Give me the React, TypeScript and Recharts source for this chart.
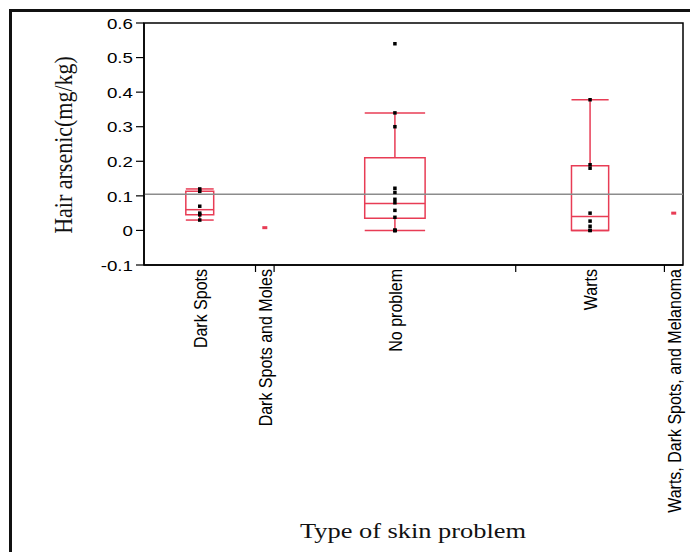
import React from 'react';
import { ComposedChart, XAxis, YAxis, Scatter, ReferenceLine, ReferenceArea, Label } from 'recharts';

const categories = ['Dark Spots', 'Dark Spots and Moles', 'No problem', 'Warts', 'Warts, Dark Spots, and Melanoma'];
const groupSizes = [6, 1, 13, 8, 1];

const darkSpots = [0.12, 0.113, 0.07, 0.05, 0.045, 0.03];
const darkSpotsMoles = [0.008];
const noProblem = [0.54, 0.34, 0.3, 0.122, 0.11, 0.09, 0.08, 0.058, 0.038, 0.0, 0.0, 0.0, 0.0];
const warts = [0.378, 0.19, 0.18, 0.05, 0.027, 0.012, 0.0, 0.0];
const wartsDarkMelanoma = [0.05];
const groupValues = [darkSpots, darkSpotsMoles, noProblem, warts, wartsDarkMelanoma];

const whiskerLow: (number | null)[] = [0.03, null, 0.0, 0.0, null];
const quartile1: (number | null)[] = [0.045, null, 0.035, 0.0, null];
const medians: (number | null)[] = [0.06, null, 0.078, 0.04, null];
const quartile3: (number | null)[] = [0.113, null, 0.21, 0.187, null];
const whiskerHigh: (number | null)[] = [0.12, null, 0.34, 0.378, null];

const grandMean = 0.105;
const yTicks = [-0.1, 0, 0.1, 0.2, 0.3, 0.4, 0.5, 0.6];

const total = groupSizes.reduce((a, b) => a + b, 0);
const starts: number[] = [];
groupSizes.reduce((acc, n) => { starts.push(acc); return acc + n; }, 0);
const centers = groupSizes.map((n, i) => starts[i] + n / 2);
const boundaries = starts.slice(1);
const xTicks = [...boundaries, ...centers].sort((a, b) => a - b);

const RED = '#e83c55';
const SANS = '"Liberation Sans", Arial, sans-serif';
const SERIF = '"Liberation Serif", "Times New Roman", serif';

const XTick = (props: any) => {
  const { x, y, payload } = props;
  const v = payload.value;
  const idx = centers.indexOf(v);
  if (idx < 0) {
    return <line x1={x} x2={x} y1={y} y2={y + 7} stroke="#000" strokeWidth={1.2} />;
  }
  return (
    <text
      transform={`translate(${x + 7},${y + 4}) scale(1.15,1) rotate(-90)`}
      textAnchor="end"
      fontFamily={SANS}
      fontSize={16}
      fill="#000"
    >
      {categories[idx]}
    </text>
  );
};

const YTick = (props: any) => {
  const { x, y, payload } = props;
  const v = payload.value;
  const s = Math.abs(v) < 1e-9 ? '0' : v.toFixed(1);
  return (
    <g transform={`translate(${x - 1},${y})`}>
      <text transform="scale(1.25,1)" textAnchor="end" dy="0.38em" fontFamily={SANS} fontSize={15} fill="#000">
        {s}
      </text>
    </g>
  );
};

const Dot = (props: any) => {
  const { cx, cy } = props;
  return <rect x={cx - 1.75} y={cy - 1.75} width={3.5} height={3.5} fill="#000" />;
};
const RedDot = (props: any) => {
  const { cx, cy } = props;
  return <rect x={cx - 2.5} y={cy - 1.5} width={5} height={3} fill={RED} />;
};

export default function App() {
  return (
    <div style={{ position: 'absolute', left: 0, top: 0, width: 690, height: 552, background: '#fff' }}>
      <div
        style={{
          position: 'absolute',
          left: 9,
          top: 9,
          width: 678,
          height: 540,
          borderTop: '3px solid #111',
          borderLeft: '3px solid #111',
        }}
      />
      <div style={{ position: 'absolute', left: 0, top: 0 }}>
        <ComposedChart width={690} height={552} margin={{ top: 23, right: 7, bottom: 7, left: 0 }}>
          <XAxis
            type="number"
            dataKey="x"
            domain={[0, total]}
            ticks={xTicks}
            interval={0}
            height={280}
            tickSize={0}
            tickMargin={0}
            tickLine={false}
            tick={<XTick />}
            axisLine={{ stroke: '#000', strokeWidth: 1.5 }}
          >
            <Label
              content={() => (
                <g transform="translate(413,538) scale(1.2,1)">
                  <text textAnchor="middle" fontFamily={SERIF} fontSize={22} fill="#111">
                    Type of skin problem
                  </text>
                </g>
              )}
            />
          </XAxis>
          <YAxis
            type="number"
            dataKey="y"
            domain={[-0.1, 0.6]}
            ticks={yTicks}
            interval={0}
            width={144}
            tickSize={8}
            tick={<YTick />}
            tickLine={{ stroke: '#000', strokeWidth: 1.2 }}
            axisLine={{ stroke: '#000', strokeWidth: 1.5 }}
          >
            <Label
              content={() => (
                <g transform="translate(72,145) scale(1.1,1) rotate(-90)">
                  <text textAnchor="middle" fontFamily={SERIF} fontSize={22} fill="#111">
                    Hair arsenic(mg/kg)
                  </text>
                </g>
              )}
            />
          </YAxis>
          <ReferenceArea x1={0} x2={total} y1={-0.1} y2={0.6} fill="none" fillOpacity={0} stroke="#000" strokeWidth={1.5} />
          <ReferenceLine y={grandMean} stroke="#8c8c8c" strokeWidth={1.5} />
          {groupSizes.map((n, i) => {
            if (quartile1[i] === null) return null;
            const half = n * 0.125;
            const c = centers[i];
            return (
              <ReferenceArea
                key={`box-${i}`}
                x1={c - half}
                x2={c + half}
                y1={quartile1[i] as number}
                y2={quartile3[i] as number}
                fill="none"
                fillOpacity={0}
                stroke={RED}
                strokeWidth={1.5}
              />
            );
          })}
          {groupSizes.map((n, i) => {
            if (medians[i] === null) return null;
            const half = n * 0.125;
            const c = centers[i];
            return (
              <ReferenceLine
                key={`med-${i}`}
                segment={[{ x: c - half, y: medians[i] as number }, { x: c + half, y: medians[i] as number }]}
                stroke={RED}
                strokeWidth={1.5}
              />
            );
          })}
          {groupSizes.map((n, i) => {
            if (whiskerHigh[i] === null) return null;
            const c = centers[i];
            return (
              <ReferenceLine
                key={`wh-${i}`}
                segment={[{ x: c, y: quartile3[i] as number }, { x: c, y: whiskerHigh[i] as number }]}
                stroke={RED}
                strokeWidth={1.5}
              />
            );
          })}
          {groupSizes.map((n, i) => {
            if (whiskerLow[i] === null) return null;
            const c = centers[i];
            return (
              <ReferenceLine
                key={`wl-${i}`}
                segment={[{ x: c, y: quartile1[i] as number }, { x: c, y: whiskerLow[i] as number }]}
                stroke={RED}
                strokeWidth={1.5}
              />
            );
          })}
          {groupSizes.map((n, i) => {
            if (whiskerHigh[i] === null) return null;
            const half = n * 0.125;
            const c = centers[i];
            return (
              <ReferenceLine
                key={`capH-${i}`}
                segment={[{ x: c - half, y: whiskerHigh[i] as number }, { x: c + half, y: whiskerHigh[i] as number }]}
                stroke={RED}
                strokeWidth={1.5}
              />
            );
          })}
          {groupSizes.map((n, i) => {
            if (whiskerLow[i] === null) return null;
            const half = n * 0.125;
            const c = centers[i];
            return (
              <ReferenceLine
                key={`capL-${i}`}
                segment={[{ x: c - half, y: whiskerLow[i] as number }, { x: c + half, y: whiskerLow[i] as number }]}
                stroke={RED}
                strokeWidth={1.5}
              />
            );
          })}
          {groupValues.map((vals, i) => (
            <Scatter
              key={`pts-${i}`}
              name={categories[i]}
              data={vals.map((v) => ({ x: centers[i], y: v }))}
              shape={groupSizes[i] === 1 ? <RedDot /> : <Dot />}
              isAnimationActive={false}
            />
          ))}
        </ComposedChart>
      </div>
    </div>
  );
}
